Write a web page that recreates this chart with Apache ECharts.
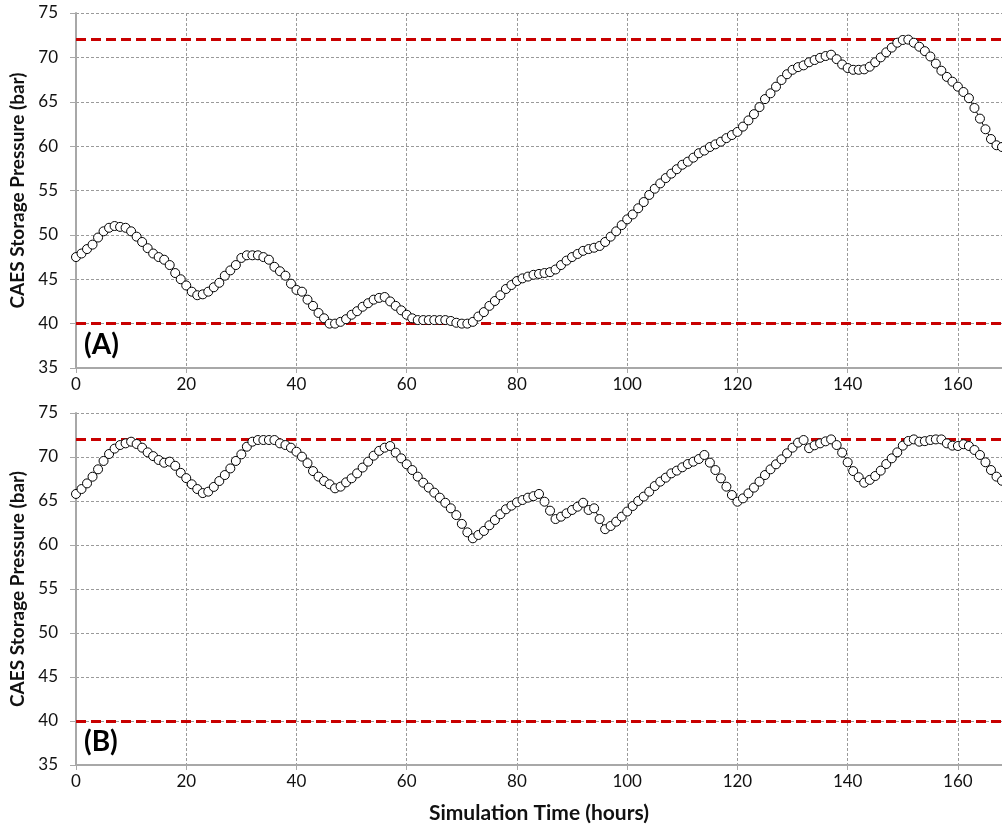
<!DOCTYPE html>
<html>
<head>
<meta charset="utf-8">
<title>CAES Storage Pressure</title>
<script src="https://cdn.jsdelivr.net/npm/echarts@6/dist/echarts.min.js"></script>
<style>
  html, body { margin: 0; padding: 0; background: #fff; }
  #chart { width: 1002px; height: 828px; }
</style>
</head>
<body>
<div id="chart"></div>
<script>
// Hourly storage pressure (bar), hours 0..168
const pressureA = [
  47.5, 47.9, 48.4, 48.9, 49.7, 50.4, 50.8, 51.0, 50.9, 50.8,
  50.4, 49.8, 49.2, 48.5, 47.9, 47.5, 47.2, 46.6, 45.7, 45.0,
  44.3, 43.6, 43.2, 43.3, 43.6, 44.1, 44.6, 45.4, 46.0, 46.6,
  47.4, 47.7, 47.7, 47.7, 47.5, 47.2, 46.4, 45.9, 45.4, 44.5,
  43.8, 43.6, 42.7, 42.0, 41.2, 40.6, 40.0, 40.0, 40.2, 40.5,
  41.0, 41.4, 41.9, 42.3, 42.7, 42.9, 43.0, 42.5, 42.0, 41.5,
  41.0, 40.6, 40.4, 40.4, 40.4, 40.4, 40.4, 40.4, 40.3, 40.1,
  40.0, 40.0, 40.2, 40.8, 41.3, 42.0, 42.55, 43.2, 43.9, 44.35,
  44.8, 45.1, 45.3, 45.5, 45.6, 45.7, 45.8, 46.1, 46.6, 47.1,
  47.5, 47.85, 48.2, 48.4, 48.55, 48.75, 49.2, 49.8, 50.4, 51.1,
  51.75, 52.3, 53.0, 53.7, 54.5, 55.2, 55.8, 56.4, 56.9, 57.4,
  57.9, 58.25, 58.7, 59.2, 59.5, 59.9, 60.2, 60.5, 60.9, 61.25,
  61.6, 62.2, 62.9, 63.6, 64.4, 65.3, 65.95, 66.7, 67.45, 68.1,
  68.6, 68.9, 69.1, 69.45, 69.7, 69.95, 70.15, 70.3, 69.8, 69.2,
  68.8, 68.6, 68.6, 68.65, 68.95, 69.45, 70.0, 70.57, 71.1, 71.65,
  71.96, 72.0, 71.65, 71.2, 70.7, 70.1, 69.3, 68.5, 67.8, 67.26,
  66.7, 66.1, 65.4, 64.3, 63.1, 61.9, 60.8, 60.1, 59.9
];

const pressureB = [
  65.8, 66.36, 67.0, 67.76, 68.6, 69.55, 70.34, 70.95, 71.36, 71.55,
  71.74, 71.48, 71.06, 70.53, 70.1, 69.66, 69.35, 69.47, 69.0, 68.2,
  67.6, 66.9, 66.36, 65.9, 66.06, 66.6, 67.27, 67.95, 68.7, 69.55,
  70.3, 71.17, 71.74, 71.93, 71.93, 71.93, 71.93, 71.55, 71.36, 71.06,
  70.6, 70.04, 69.3, 68.4, 67.77, 67.27, 66.9, 66.44, 66.63, 67.12,
  67.58, 68.14, 68.8, 69.47, 70.15, 70.7, 71.06, 71.25, 70.5, 69.85,
  69.17, 68.52, 67.77, 67.08, 66.52, 65.95, 65.38, 64.8, 64.17, 63.4,
  62.4, 61.44, 60.76, 61.14, 61.6, 62.24, 62.84, 63.5, 64.06, 64.47,
  64.85, 65.11, 65.38, 65.55, 65.8, 64.92, 63.9, 62.95, 63.22, 63.6,
  63.98, 64.35, 64.8, 63.98, 64.17, 62.95, 61.8, 62.16, 62.65, 63.22,
  63.8, 64.43, 65.0, 65.5, 66.06, 66.7, 67.2, 67.65, 68.14, 68.45,
  68.83, 69.2, 69.47, 69.77, 70.23, 69.36, 68.52, 67.58, 66.63, 65.68,
  64.92, 65.3, 65.87, 66.52, 67.2, 67.95, 68.6, 69.17, 69.74, 70.42,
  71.06, 71.63, 71.93, 71.0, 71.33, 71.55, 71.78, 72.0, 71.36, 70.5,
  69.4, 68.4, 67.7, 67.08, 67.4, 67.84, 68.45, 69.2, 69.85, 70.53,
  71.29, 71.82, 72.0, 71.74, 71.8, 71.93, 72.0, 72.0, 71.55, 71.29,
  71.25, 71.45, 71.25, 70.8, 70.23, 69.4, 68.52, 67.77, 67.3
];

// Operating pressure limits (bar)
const pressureLimits = [40, 72];
const panelLabels = ['(A)', '(B)'];
const yAxisTitle = 'CAES Storage Pressure (bar)';
const xAxisTitle = 'Simulation Time (hours)';

const FONT = 'Lato, "Liberation Sans", sans-serif';
const TEXT = '#111';
const GRID_LINE = '#9a9a9a';
const AXIS_LINE = '#a8a8a8';

const toPoints = arr => arr.map((v, h) => [h, v]);

function xAxis(gridIndex, withName) {
  return {
    type: 'value', gridIndex, min: 0, max: 168, interval: 20,
    axisLabel: { showMaxLabel: false, fontFamily: FONT, fontSize: 17, color: TEXT, margin: 8 },
    axisTick: { show: true, length: 5, lineStyle: { color: AXIS_LINE, width: 1 } },
    axisLine: { show: true, onZero: false, lineStyle: { color: AXIS_LINE, width: 2 } },
    splitLine: { show: true, lineStyle: { color: GRID_LINE, width: 1, type: [3, 2] } },
    name: withName ? xAxisTitle : '',
    nameLocation: 'middle', nameGap: 38,
    nameTextStyle: { fontFamily: FONT, fontSize: 21, fontWeight: 'bold', color: TEXT }
  };
}

function yAxis(gridIndex) {
  return {
    type: 'value', gridIndex, min: 35, max: 75, interval: 5,
    axisLabel: { fontFamily: FONT, fontSize: 17, color: TEXT, margin: 18 },
    axisTick: { show: true, length: 6, lineStyle: { color: AXIS_LINE, width: 1 } },
    axisLine: { show: true, onZero: false, lineStyle: { color: AXIS_LINE, width: 2 } },
    splitLine: { show: true, lineStyle: { color: GRID_LINE, width: 1, type: [3, 2] } },
    name: yAxisTitle, nameLocation: 'middle', nameGap: 41,
    nameTextStyle: { fontFamily: FONT, fontSize: 19, fontWeight: 'bold', color: TEXT }
  };
}

function pressureSeries(data, idx) {
  return {
    type: 'line', xAxisIndex: idx, yAxisIndex: idx,
    data: toPoints(data),
    symbol: 'circle', symbolSize: 9, showAllSymbol: true,
    itemStyle: { color: '#fff', borderColor: '#000', borderWidth: 1 },
    lineStyle: { color: '#000', width: 1 },
    z: 3,
    markLine: {
      silent: true, symbol: 'none', z: 2,
      label: { show: false },
      lineStyle: { color: '#c80000', width: 3, type: [10, 5] },
      data: pressureLimits.map(v => ({ yAxis: v }))
    }
  };
}

const chart = echarts.init(document.getElementById('chart'), null, { renderer: 'canvas' });
chart.setOption({
  animation: false,
  backgroundColor: '#fff',
  grid: [
    { left: 76, top: 13, width: 927, height: 355 },
    { left: 76, top: 413, width: 927, height: 352 }
  ],
  xAxis: [xAxis(0, false), xAxis(1, true)],
  yAxis: [yAxis(0), yAxis(1)],
  series: [pressureSeries(pressureA, 0), pressureSeries(pressureB, 1)],
  graphic: [
    { type: 'text', left: 84, top: 331, z: 10,
      style: { text: panelLabels[0], font: 'bold 28px ' + FONT, fill: '#000' } },
    { type: 'text', left: 84, top: 728, z: 10,
      style: { text: panelLabels[1], font: 'bold 28px ' + FONT, fill: '#000' } }
  ]
});
</script>
</body>
</html>
